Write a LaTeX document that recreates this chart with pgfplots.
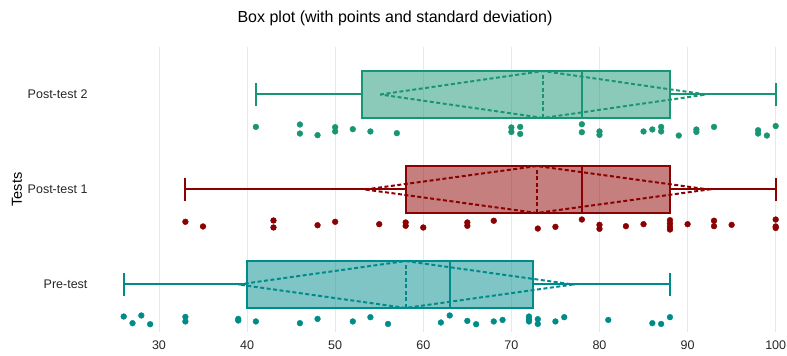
\documentclass[border=0pt]{standalone}
\usepackage{fontspec}
\setmainfont{Liberation Sans}
\usepackage{pgfplots}
\pgfplotsset{compat=1.18}
\definecolor{cpre}{RGB}{0,139,139}
\definecolor{cpa}{RGB}{139,0,0}
\definecolor{cpb}{RGB}{24,150,115}
\definecolor{gridc}{RGB}{232,232,232}
\pgfplotsset{
  boxline/.style={line width=2pt},
  dline/.style={line width=2pt, dash pattern=on 4pt off 2.5pt},
}
\begin{document}
\begin{tikzpicture}
\path[use as bounding box] (0pt,0pt) rectangle (787pt,356pt);
\begin{axis}[at={(110.5pt,24pt)}, anchor=south west, scale only axis,
  width=674pt, height=285pt,
  xmin=24.5, xmax=101, ymin=-0.5, ymax=2.5,
  xtick={30,40,...,100}, ytick={0,1,2},
  yticklabels={Pre-test,Post-test 1,Post-test 2},
  xmajorgrids, major grid style={gridc, line width=0.8pt},
  axis line style={draw=none}, major tick length=0pt,
  /pgf/number format/assume math mode=true,
  tick label style={font=\fontsize{12.5}{14}\selectfont, text=black!85},
  yticklabel style={xshift=-19.5pt},
  xticklabel style={yshift=-5pt},
  ylabel={Tests},
  ylabel style={at={(axis description cs:-0.1387,0.5)}, anchor=center, font=\fontsize{14.5}{16}\selectfont},
  clip=false]

% ---------- Pre-test (y=0)
\addplot[draw=cpre, fill=cpre, fill opacity=0.5, draw opacity=1, boxline] coordinates {(40,-0.247) (72.5,-0.247) (72.5,0.247) (40,0.247)} --cycle;
\addplot[cpre, boxline] coordinates {(63,-0.247) (63,0.247)};
\addplot[cpre, dline] coordinates {(58,-0.247) (58,0.247)};
\addplot[cpre, dline] coordinates {(39,0) (58,0.247) (77,0) (58,-0.247) (39,0)};
\addplot[cpre, boxline] coordinates {(26,0) (40,0)};
\addplot[cpre, boxline] coordinates {(72.5,0) (88,0)};
\addplot[cpre, boxline] coordinates {(26,-0.12) (26,0.12)};
\addplot[cpre, boxline] coordinates {(88,-0.12) (88,0.12)};
\addplot[only marks, mark=*, mark size=2.9pt, cpre] coordinates {
(26,-0.337) (27,-0.407) (28,-0.326) (29,-0.418) (33,-0.341) (33,-0.389)
(39,-0.362) (39,-0.379) (41,-0.389) (46,-0.407) (48,-0.362) (52,-0.389)
(54,-0.344) (56,-0.415) (62,-0.400) (63,-0.326) (65,-0.383) (66,-0.418)
(68,-0.389) (69,-0.373) (72,-0.337) (72,-0.365) (72,-0.389) (73,-0.365)
(73,-0.415) (75,-0.389) (76,-0.344) (81,-0.373) (86,-0.407) (87,-0.415)
(88,-0.344)};

% ---------- Post-test 1 (y=1)
\addplot[draw=cpa, fill=cpa, fill opacity=0.5, draw opacity=1, boxline] coordinates {(58,0.753) (88,0.753) (88,1.247) (58,1.247)} --cycle;
\addplot[cpa, boxline] coordinates {(78,0.753) (78,1.247)};
\addplot[cpa, dline] coordinates {(72.9,0.753) (72.9,1.247)};
\addplot[cpa, dline] coordinates {(53.4,1) (72.9,1.247) (92.4,1) (72.9,0.753) (53.4,1)};
\addplot[cpa, boxline] coordinates {(33,1) (58,1)};
\addplot[cpa, boxline] coordinates {(88,1) (100,1)};
\addplot[cpa, boxline] coordinates {(33,0.88) (33,1.12)};
\addplot[cpa, boxline] coordinates {(100,0.88) (100,1.12)};
\addplot[only marks, mark=*, mark size=2.9pt, cpa] coordinates {
(33,0.660) (35,0.611) (43,0.674) (43,0.600) (48,0.624) (50,0.660)
(55,0.635) (58,0.653) (58,0.618) (60,0.600) (65,0.653) (65,0.618)
(68,0.671) (73,0.589) (75,0.607) (78,0.684) (80,0.628) (80,0.586)
(83,0.614) (85,0.635) (88,0.677) (88,0.642) (88,0.607) (88,0.579)
(90,0.635) (93,0.671) (93,0.614) (95,0.628) (100,0.684) (100,0.611)
(100,0.595)};

% ---------- Post-test 2 (y=2)
\addplot[draw=cpb, fill=cpb, fill opacity=0.5, draw opacity=1, boxline] coordinates {(53,1.753) (88,1.753) (88,2.247) (53,2.247)} --cycle;
\addplot[cpb, boxline] coordinates {(78,1.753) (78,2.247)};
\addplot[cpb, dline] coordinates {(73.6,1.753) (73.6,2.247)};
\addplot[cpb, dline] coordinates {(55.1,2) (73.6,2.247) (92.1,2) (73.6,1.753) (55.1,2)};
\addplot[cpb, boxline] coordinates {(41,2) (53,2)};
\addplot[cpb, boxline] coordinates {(88,2) (100,2)};
\addplot[cpb, boxline] coordinates {(41,1.88) (41,2.12)};
\addplot[cpb, boxline] coordinates {(100,1.88) (100,2.12)};
\addplot[only marks, mark=*, mark size=2.9pt, cpb] coordinates {
(41,1.659) (46,1.684) (46,1.589) (48,1.572) (50,1.656) (50,1.611)
(52,1.635) (54,1.611) (57,1.593) (70,1.653) (70,1.606) (71,1.659)
(71,1.585) (78,1.687) (78,1.603) (80,1.611) (80,1.575) (85,1.611)
(86,1.632) (87,1.659) (87,1.611) (89,1.568) (91,1.632) (91,1.606)
(93,1.659) (98,1.624) (98,1.589) (99,1.568) (100,1.668)};
\end{axis}
\node[font=\fontsize{16}{18}\selectfont] at (395pt,338pt) {Box plot (with points and standard deviation)};
\end{tikzpicture}
\end{document}
